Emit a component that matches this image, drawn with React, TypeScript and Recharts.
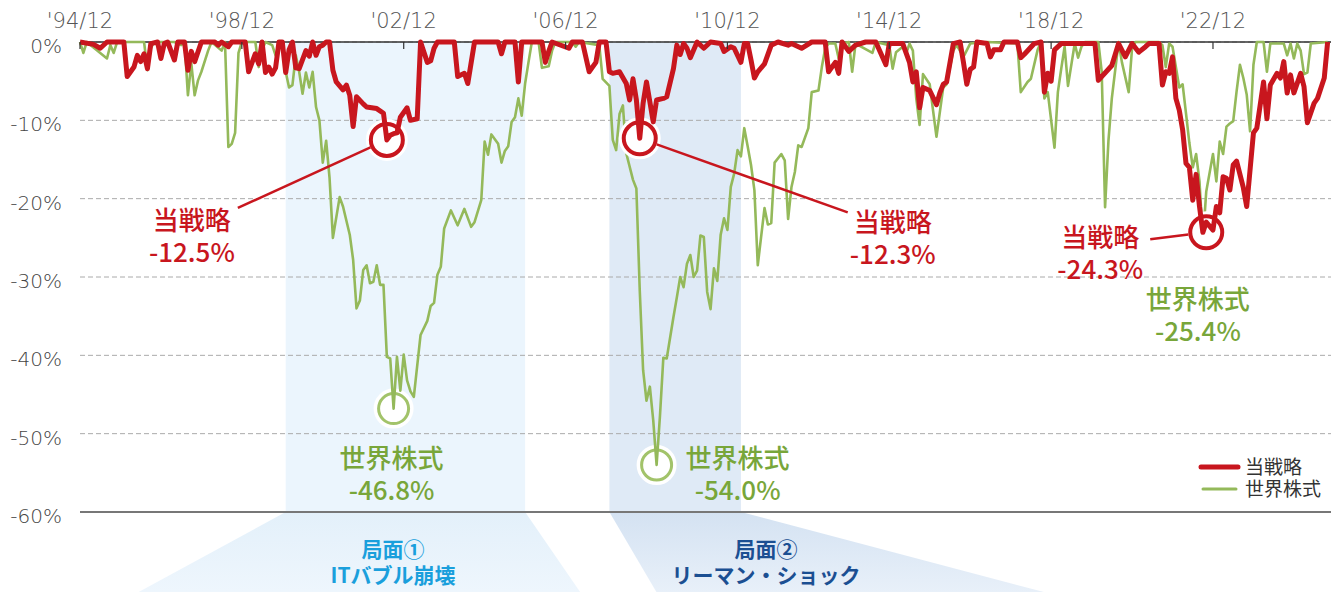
import React from "react";
import {
  LineChart,
  Line,
  XAxis,
  YAxis,
  CartesianGrid,
  ReferenceArea,
  ReferenceDot,
  ReferenceLine,
  Legend,
} from "recharts";

const FONT = '"Noto Sans CJK JP", "Noto Sans", sans-serif';
const TICK_FONT = '"DejaVu Sans", "Noto Sans", sans-serif';
const W = 1343;
const H = 592;
const RED = "#c8161e";
const GREEN = "#94b95a";
const GREEN_TEXT = "#78a63a";

// x = months since 1994/12
const xTickMonths = [0, 48, 96, 144, 192, 240, 288, 336];
const xTickLabels = ["'94/12", "'98/12", "'02/12", "'06/12", "'10/12", "'14/12", "'18/12", "'22/12"];
const yTicks = [0, -10, -20, -30, -40, -50, -60];

const seriesNames = ["当戦略", "世界株式"];

// drawdown (%) of the strategy: [month, value]
const strategy: [number, number][] = [
  [0, 0], [4, -0.3], [6, -0.8], [8, 0], [13, 0], [14, -4.4], [16, -3.2], [17, -1.7], [18, -2.5], [19, -1.5],
  [20, -3.4], [21, -0.2], [23, 0], [24, -2.1], [25, -0.2], [26, 0], [28, -2.3], [29, 0], [31, 0], [32, -3.6],
  [33, -1.2], [34, -2.5], [36, 0], [40, 0], [41, -0.4], [42, 0], [44, -0.6], [45, 0], [49, 0], [50, -3.8],
  [52, -1.5], [53, -2.8], [54, 0], [55, -3.9], [56, -3.2], [57, -4.1], [58, -3.3], [59, 0], [60, 0], [61, -3.9],
  [62, -1.0], [63, 0], [64, -3.3], [65, -3.4], [67, -1.1], [68, -1.8], [69, 0], [70, -1.7], [71, -0.6], [72, -0.4],
  [73, 0], [74, 0], [75, -3.6], [76, -5.1], [78, -6.1], [79, -5.5], [80, -6.8], [81, -10.8], [82, -7.0], [84, -7.9],
  [85, -8.3], [88, -8.5], [90, -9.1], [91, -12.5], [92, -11.9], [93, -11.7], [94, -11.6], [95, -9.6], [96, -9.0], [97, -8.4],
  [98, -10.0], [100, -9.8], [101, 0], [103, -2.6], [104, -2.4], [105, -0.8], [106, 0], [111, 0], [112, -4.4], [114, -4.0],
  [115, -5.3], [117, 0], [124, 0], [125, -1.5], [126, 0], [129, 0], [130, -5.1], [131, 0], [137, 0], [138, -2.6],
  [139, -1.2], [140, 0], [145, -0.8], [146, 0], [149, 0], [151, -3.8], [153, -2.6], [154, 0], [156, 0], [157, -3.8],
  [158, -4.0], [160, -3.8], [162, -5.3], [163, -7.4], [164, -4.7], [165, -7.4], [166, -12.3], [167, -7.8], [168, -5.1], [170, -10.2],
  [171, -7.4], [173, -7.2], [174, -7.0], [176, -3.4], [177, -0.4], [178, -1.6], [179, -0.2], [180, -0.8], [181, -2.0], [183, 0],
  [185, -0.8], [187, 0], [190, -0.2], [191, -1.2], [193, -0.6], [194, -0.8], [196, -2.6], [197, -0.2], [198, -0.2], [199, -2.3],
  [200, -4.6], [201, -3.8], [203, -2.8], [205, -0.4], [207, 0], [210, -0.4], [211, -0.2], [214, -0.8], [217, 0], [221, 0],
  [222, -3.8], [224, -2.6], [225, -4.0], [226, 0], [228, -1.2], [230, -0.4], [233, 0], [236, 0], [239, -2.9], [240, -0.2],
  [244, -0.2], [246, -2.6], [247, -5.1], [248, -3.8], [249, -8.4], [250, -5.8], [252, -6.2], [254, -8.0], [255, -6.5], [256, -5.4],
  [257, -5.1], [259, -0.2], [261, 0], [262, -2.6], [263, -5.4], [264, -3.5], [265, -3.2], [266, 0], [269, -0.2], [270, -1.9],
  [271, -1.0], [273, -1.0], [274, 0], [278, 0], [279, -2.0], [280, -1.6], [283, -0.2], [285, 0], [286, -6.4], [287, -4.0],
  [288, -5.0], [289, -1.0], [291, -0.2], [301, -0.2], [302, -4.9], [306, -3.0], [308, -0.2], [310, -1.9], [312, -0.2], [314, -1.3],
  [316, -0.6], [317, -0.2], [320, -0.2], [321, -5.5], [322, -3.8], [323, -4.0], [324, -1.9], [325, -7.2], [326, -8.7], [327, -11.2],
  [328, -15.5], [329, -16.0], [330, -20.2], [331, -16.9], [332, -21.0], [333, -24.3], [334, -23.0], [335, -23.5], [336, -24.0], [337, -21.0],
  [338, -21.8], [339, -17.2], [340, -17.4], [341, -18.9], [342, -15.7], [343, -15.2], [345, -18.6], [346, -21.0], [348, -11.6], [349, -11.0],
  [351, -5.1], [352, -9.8], [353, -5.5], [355, -4.0], [356, -4.6], [357, -2.5], [358, -6.5], [359, -4.2], [360, -6.5], [362, -4.0],
  [363, -5.7], [364, -10.3], [366, -7.8], [367, -7.2], [369, -4.6], [370, 0],
];

// drawdown (%) of world equities: [month, value]
const world: [number, number][] = [
  [0, 0], [1, -1.4], [2, 0], [8, -2.1], [9, -0.4], [10, -1.4], [11, 0], [19, 0], [20, -3.6], [21, -0.8],
  [22, 0], [28, 0], [30, -0.4], [31, 0], [32, -6.8], [33, -2.7], [34, -6.8], [35, -4.9], [36, -3.8], [38, -1.1],
  [39, 0], [42, -1.1], [43, 0], [44, -13.4], [45, -13.0], [46, -11.6], [47, -1.4], [48, 0], [52, 0], [53, -3.2],
  [54, -1.0], [55, 0], [57, -0.4], [58, -1.7], [60, 0], [61, -3.8], [62, -5.8], [63, -5.5], [64, -1.7], [65, -3.8],
  [66, -6.6], [67, -3.9], [68, -5.8], [69, -3.8], [70, -8.3], [71, -10.0], [72, -15.4], [73, -12.6], [74, -17.3], [75, -25.0],
  [77, -19.8], [78, -21.0], [80, -24.6], [81, -27.8], [82, -34.0], [83, -33.0], [84, -29.1], [85, -28.5], [86, -30.8], [87, -30.6],
  [88, -28.5], [89, -31.0], [90, -31.0], [91, -40.2], [92, -40.4], [93, -46.8], [94, -40.2], [95, -44.5], [96, -39.9], [97, -43.2],
  [98, -44.6], [99, -45.3], [101, -37.4], [103, -35.6], [104, -33.7], [105, -33.3], [106, -29.7], [107, -28.7], [108, -23.8], [110, -21.5],
  [112, -23.4], [114, -21.3], [116, -23.6], [117, -23.0], [119, -20.2], [120, -12.7], [121, -14.4], [122, -11.8], [124, -13.0], [125, -15.4],
  [126, -13.9], [127, -13.3], [128, -10.2], [129, -9.6], [130, -7.2], [131, -9.4], [132, -5.3], [133, -2.6], [134, 0], [136, 0],
  [137, -3.3], [138, -3.2], [139, -3.1], [140, -1.1], [141, 0], [146, 0], [147, -0.6], [148, 0], [154, -0.4], [155, -4.7],
  [157, -5.6], [158, -12.5], [159, -13.8], [160, -9.2], [161, -8.1], [162, -14.2], [164, -17.6], [165, -18.7], [166, -31.7], [167, -41.9],
  [168, -45.8], [169, -44.0], [170, -48.3], [171, -54.0], [172, -47.7], [173, -40.3], [174, -40.4], [176, -35.1], [177, -32.6], [178, -30.0],
  [179, -31.3], [180, -28.3], [181, -27.2], [182, -30.0], [183, -29.2], [184, -24.7], [185, -24.9], [186, -31.9], [187, -34.1], [188, -28.9],
  [189, -30.5], [190, -24.6], [191, -22.5], [192, -24.0], [193, -18.5], [194, -16.8], [195, -13.8], [196, -14.6], [197, -11.0], [198, -13.3],
  [199, -15.7], [200, -18.9], [201, -28.5], [203, -21.2], [204, -23.3], [205, -23.1], [206, -15.4], [208, -14.3], [209, -15.1], [210, -22.6],
  [211, -18.5], [212, -16.6], [213, -13.2], [214, -13.4], [216, -11.0], [217, -6.4], [219, -6.2], [220, -3.2], [221, -0.8], [222, -0.2],
  [224, -0.2], [225, -2.1], [226, -0.2], [228, 0], [229, -3.8], [230, -0.2], [235, -1.4], [236, 0], [240, -0.4], [241, -3.4],
  [242, -1.3], [244, -0.6], [245, -1.5], [246, -0.2], [247, -1.1], [248, -7.2], [249, -10.6], [250, -4.1], [252, -5.4], [253, -8.8],
  [254, -12.1], [256, -5.8], [257, -5.4], [259, -1.1], [260, -0.4], [262, -1.9], [264, -0.2], [269, 0], [278, -0.2], [279, -6.4],
  [281, -5.1], [282, -4.7], [284, -1.0], [285, 0], [286, -7.2], [287, -6.4], [289, -13.5], [290, -6.4], [291, -3.4], [292, -0.6],
  [293, -5.6], [295, -0.2], [296, -2.0], [297, -0.6], [298, 0], [302, 0], [303, -3.8], [304, -21.1], [305, -12.6], [306, -7.2],
  [308, 0], [309, -2.6], [311, -6.4], [312, -0.8], [313, 0], [320, 0], [321, -0.4], [322, -3.2], [323, -0.2], [324, -0.6],
  [325, -3.2], [326, -5.8], [327, -5.4], [328, -9.1], [329, -12.9], [330, -16.0], [331, -14.3], [332, -17.8], [333, -25.4], [334, -19.1],
  [336, -14.3], [337, -17.8], [338, -12.7], [339, -14.3], [340, -10.8], [341, -10.4], [342, -10.1], [343, -6.3], [344, -2.9], [345, -4.6],
  [346, -6.7], [347, -11.4], [348, -2.9], [349, 0], [351, 0], [352, -3.8], [353, -0.2], [357, -0.2], [358, -1.7], [359, -0.2],
  [360, -2.1], [361, -0.2], [362, -1.1], [363, -4.1], [364, -3.9], [365, -0.2], [370, 0],
];

// shaded phases
const phaseRanges = [
  [61, 132],
  [157, 196],
];
const phaseTitles = ["局面①", "局面②"];
const phaseNames = ["ITバブル崩壊", "リーマン・ショック"];

// trough call-outs
const troughMonths = [91, 166, 334, 93, 171, 333];
const troughValues = [-12.5, -12.3, -24.3, -46.8, -54.0, -25.4];
const troughSeries = [0, 0, 0, 1, 1, 1];

// look of the phases (fill, funnel below the plot, label)
const phaseLook = [
  { fill: "#ebf5fd", top: "#e3f0fa", bottom: "#eef6fd", text: "#1a9fdc", bl: -147, br: 55, lx: 393 },
  { fill: "#dfeaf6", top: "#d4e2f2", bottom: "#e8f0f9", text: "#1b4f92", bl: 47, br: 303, lx: 766 },
];

// look of the call-outs: circle?, connector end, text offsets
const troughLook = [
  { circle: true, lx: -149, ly: 68, tx: -195, ty: 81 },
  { circle: true, lx: 208, ly: 74, tx: 253, ty: 85 },
  { circle: true, lx: -56, ly: 7, tx: -106, ty: 6 },
  { circle: true, lx: 0, ly: 0, tx: -2, ty: 50 },
  { circle: true, lx: 0, ly: 0, tx: 81, ty: -6 },
  { circle: false, lx: 0, ly: 0, tx: -5, ty: 59 },
];

const toRows = (pts: [number, number][]) => pts.map(([m, v]) => ({ m, v }));

const XTick = (props: any) => {
  const { x, y, index } = props;
  return (
    <g>
      <line x1={x} x2={x} y1={y} y2={y + 7} stroke="#333" strokeWidth={1.2} />
      <text x={x} y={y - 21} textAnchor="middle" dominantBaseline="central" fontSize={21} fontWeight={300} fill="#555" fontFamily={TICK_FONT}>
        {xTickLabels[index]}
      </text>
    </g>
  );
};

const YTick = (props: any) => {
  const { x, y, payload } = props;
  return (
    <text x={x} y={y + 4} textAnchor="end" dominantBaseline="central" fontSize={20} fontWeight={300} fill="#444" fontFamily={TICK_FONT}>
      {`${payload.value}%`}
    </text>
  );
};

const PhaseShape = (props: any) => {
  const { x, y, width, height, i } = props;
  const look = phaseLook[i];
  const b = y + height;
  const id = `funnel-${i}`;
  return (
    <g>
      <defs>
        <linearGradient id={id} x1="0" y1="0" x2="0" y2="1">
          <stop offset="0%" stopColor={look.top} />
          <stop offset="100%" stopColor={look.bottom} />
        </linearGradient>
      </defs>
      <rect x={x} y={y} width={width} height={height} fill={look.fill} />
      <polygon
        points={`${x},${b} ${x + width},${b} ${x + width + look.br},${H} ${x + look.bl},${H}`}
        fill={`url(#${id})`}
      />
      <text x={look.lx} y={b + 45} textAnchor="middle" fontSize={21} fontWeight={600} fill={look.text} fontFamily={FONT}>
        <tspan x={look.lx}>{phaseTitles[i]}</tspan>
        <tspan x={look.lx} dy={26}>{phaseNames[i]}</tspan>
      </text>
    </g>
  );
};

const CircleShape = (props: any) => {
  const { cx, cy, i } = props;
  const look = troughLook[i];
  const red = troughSeries[i] === 0;
  const color = red ? RED : "#a2c36a";
  const r = red ? 16 : 15;
  const len = Math.hypot(look.lx, look.ly);
  return (
    <g>
      {look.circle && <circle cx={cx} cy={cy} r={r} fill="#fff" stroke="#fff" strokeWidth={10} />}
      {look.circle && <circle cx={cx} cy={cy} r={r} fill="#fff" stroke={color} strokeWidth={red ? 4 : 3} />}
      {len > 0 && (
        <line
          x1={cx + (look.lx / len) * (r + 2)}
          y1={cy + (look.ly / len) * (r + 2)}
          x2={cx + look.lx}
          y2={cy + look.ly}
          stroke={RED}
          strokeWidth={2.5}
        />
      )}
    </g>
  );
};

const LabelShape = (props: any) => {
  const { cx, cy, i } = props;
  const look = troughLook[i];
  const red = troughSeries[i] === 0;
  const color = red ? RED : GREEN_TEXT;
  const tx = cx + look.tx;
  return (
    <text x={tx} y={cy + look.ty + 9} fontFamily={FONT} fontSize={26} fontWeight={500} fill={color} textAnchor="middle">
      <tspan x={tx}>{seriesNames[troughSeries[i]]}</tspan>
      <tspan x={tx} dy={32}>{`${troughValues[i].toFixed(1)}%`}</tspan>
    </text>
  );
};

const LegendBox = () => (
  <svg width={143} height={52} style={{ display: "block", overflow: "visible" }}>
    <line x1={3} x2={40} y1={12} y2={12} stroke={RED} strokeWidth={5} strokeLinecap="round" />
    <line x1={5} x2={38} y1={34} y2={34} stroke={GREEN} strokeWidth={3} strokeLinecap="round" />
    <text x={47} y={19} fontSize={19} fill="#333" fontFamily={FONT}>
      <tspan x={47}>{seriesNames[0]}</tspan>
      <tspan x={47} dy={22}>{seriesNames[1]}</tspan>
    </text>
  </svg>
);

export default function App() {
  return (
    <div style={{ position: "absolute", left: 0, top: 0, width: W, height: H, background: "#fff", fontFamily: FONT }}>
      <LineChart width={W} height={H} margin={{ top: 0, right: 12, bottom: 80, left: 10 }}>
        {phaseRanges.map(([from, to], i) => (
          <ReferenceArea
            key={`phase-${i}`}
            x1={from}
            x2={to}
            y1={0}
            y2={-60}
            ifOverflow="visible"
            zIndex={-200}
            shape={(p: any) => <PhaseShape {...p} i={i} />}
          />
        ))}
        <CartesianGrid vertical={false} stroke="#aaa" strokeDasharray="5 3" strokeWidth={1} />
        <ReferenceLine y={-60} stroke="#777" strokeWidth={2} zIndex={-50} />
        <XAxis
          dataKey="m"
          type="number"
          orientation="top"
          domain={[0, 371]}
          ticks={xTickMonths}
          height={42}
          tickSize={0}
          tickMargin={0}
          tick={<XTick />}
          axisLine={{ stroke: "#333", strokeWidth: 1.5 }}
          tickLine={false}
          allowDuplicatedCategory={false}
          zIndex={300}
        />
        <YAxis
          type="number"
          domain={[-60, 0]}
          ticks={yTicks}
          width={70}
          tickMargin={12}
          tick={<YTick />}
          axisLine={false}
          tickLine={false}
          zIndex={300}
        />
        {troughMonths.map((m, i) =>
          troughSeries[i] === 1 ? (
            <ReferenceDot
              key={`wc-${i}`}
              x={m}
              y={troughValues[i]}
              ifOverflow="visible"
              zIndex={380}
              shape={(p: any) => <CircleShape {...p} i={i} />}
            />
          ) : null
        )}
        <Line
          data={toRows(world)}
          dataKey="v"
          name={seriesNames[1]}
          stroke={GREEN}
          strokeWidth={2.6}
          dot={false}
          activeDot={false}
          isAnimationActive={false}
          strokeLinejoin="round"
          zIndex={400}
        />
        {troughMonths.map((m, i) =>
          troughSeries[i] === 0 ? (
            <ReferenceDot
              key={`sc-${i}`}
              x={m}
              y={troughValues[i]}
              ifOverflow="visible"
              zIndex={420}
              shape={(p: any) => <CircleShape {...p} i={i} />}
            />
          ) : null
        )}
        <Line
          data={toRows(strategy)}
          dataKey="v"
          name={seriesNames[0]}
          stroke={RED}
          strokeWidth={5}
          dot={false}
          activeDot={false}
          isAnimationActive={false}
          strokeLinejoin="round"
          zIndex={450}
        />
        {troughMonths.map((m, i) => (
          <ReferenceDot
            key={`lb-${i}`}
            x={m}
            y={troughValues[i]}
            ifOverflow="visible"
            zIndex={2000}
            shape={(p: any) => <LabelShape {...p} i={i} />}
          />
        ))}
        <Legend
          layout="vertical"
          align="center"
          verticalAlign="middle"
          content={() => <LegendBox />}
          wrapperStyle={{ position: "absolute", left: 1198, top: 455, width: 143, height: 52 }}
        />
      </LineChart>
    </div>
  );
}
